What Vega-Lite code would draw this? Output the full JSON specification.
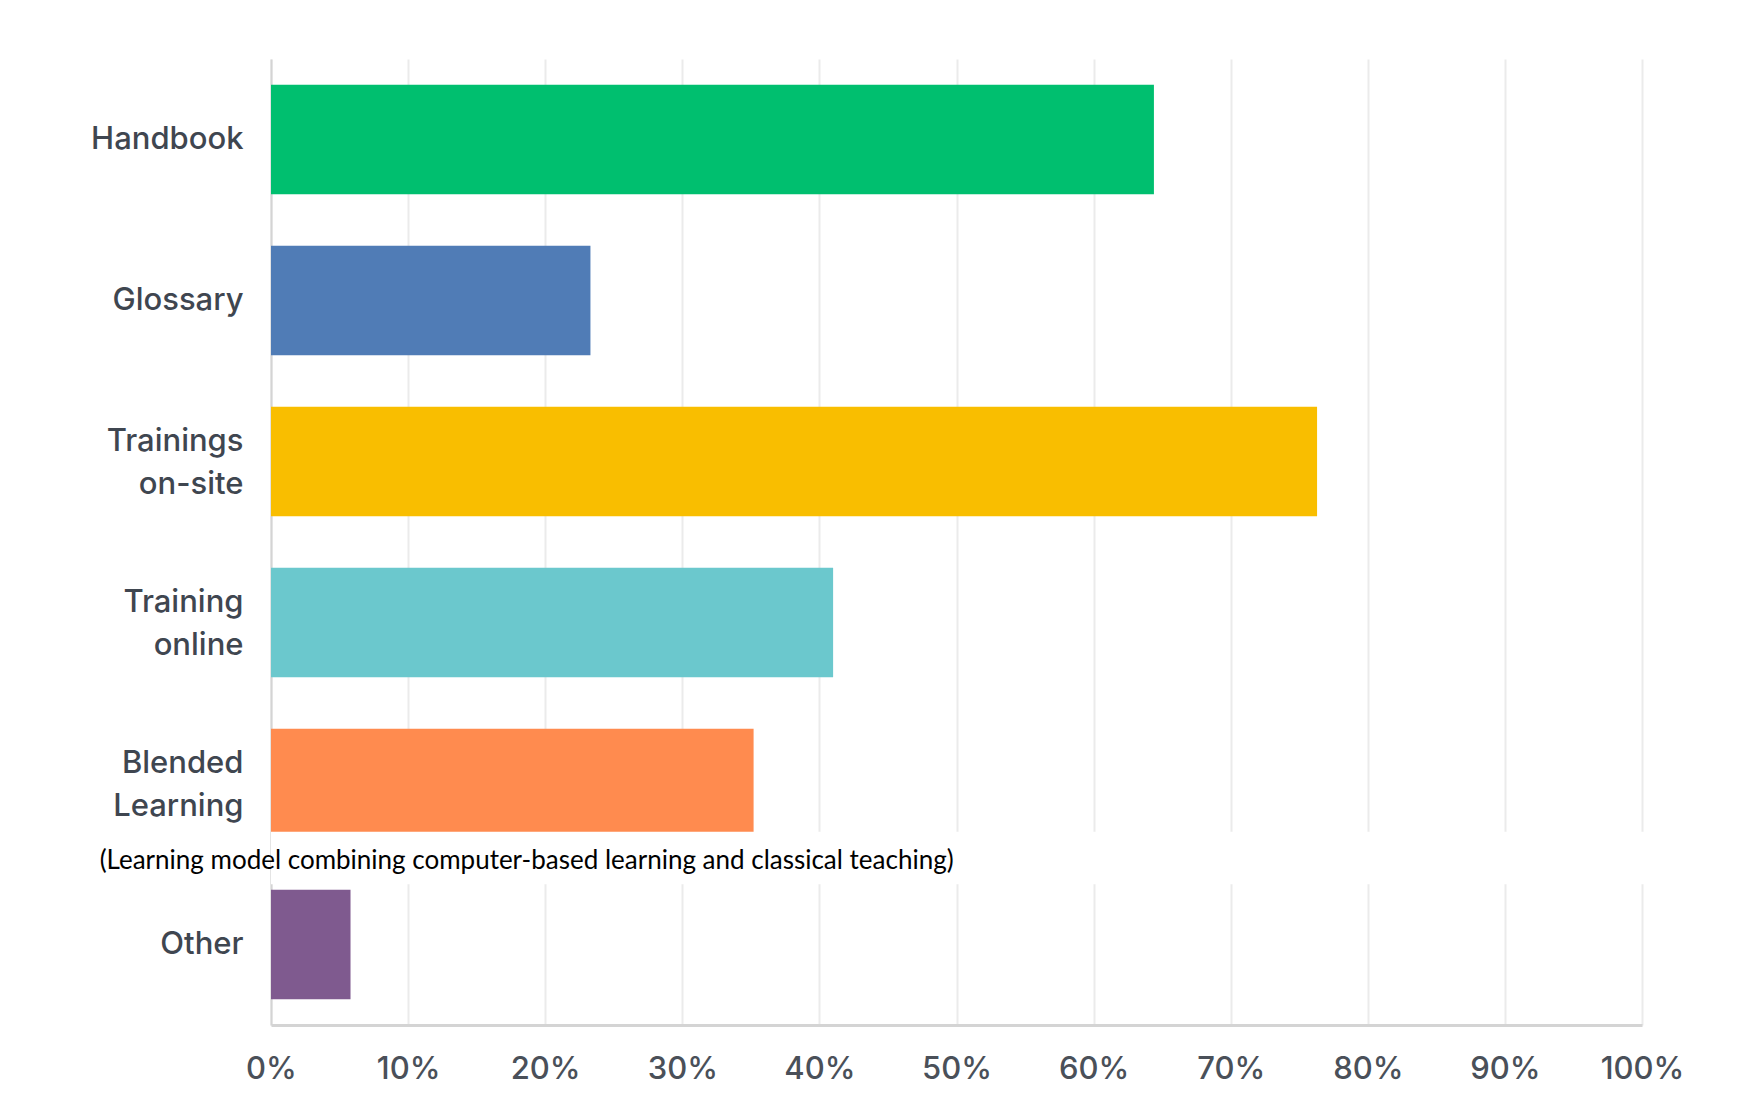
{
  "$schema": "https://vega.github.io/schema/vega-lite/v6.json",
  "width": 1371,
  "height": 966,
  "autosize": {"type": "none"},
  "padding": {"left": 271, "top": 59, "right": 113, "bottom": 92},
  "background": "white",
  "config": {"view": {"stroke": null}},
  "datasets": {
    "bars": [
      {"option": "Handbook", "share": 0.644},
      {"option": "Glossary", "share": 0.233},
      {"option": "Trainings on-site", "share": 0.763},
      {"option": "Training online", "share": 0.41},
      {"option": "Blended Learning", "share": 0.352},
      {"option": "Other", "share": 0.058}
    ],
    "mask": [{"from": "Blended Learning", "to": "Other", "x0": 0, "x1": 1.01}],
    "note": [{"option": "Blended Learning", "pos": -0.125, "text": "(Learning model combining computer-based learning and classical teaching)"}]
  },
  "layer": [
    {
      "data": {"name": "bars"},
      "mark": {"type": "bar"},
      "encoding": {
        "y": {
          "field": "option", "type": "nominal",
          "scale": {"domain": ["Handbook", "Glossary", "Trainings on-site", "Training online", "Blended Learning", "Other"], "paddingInner": 0.32, "paddingOuter": 0.16},
          "axis": {
            "title": null, "ticks": false, "grid": false,
            "domainColor": "#d4d4d4", "domainWidth": 2,
            "labelFont": "Inter", "labelFontSize": 31, "labelFontWeight": 500, "labelColor": "#3f4650",
            "labelPadding": 28, "labelLineHeight": 43, "labelLimit": 300,
            "labelOffset": {"condition": {"test": "indexof(datum.value, ' ') > 0", "value": -20}, "value": 0},
            "labelExpr": "datum.value == 'Trainings on-site' ? ['Trainings', 'on-site'] : datum.value == 'Training online' ? ['Training', 'online'] : datum.value == 'Blended Learning' ? ['Blended', 'Learning'] : datum.value"
          }
        },
        "x": {
          "field": "share", "type": "quantitative",
          "scale": {"domain": [0, 1], "nice": false},
          "axis": {
            "title": null, "format": ".0%", "values": [0, 0.1, 0.2, 0.3, 0.4, 0.5, 0.6, 0.7, 0.8, 0.9, 1],
            "ticks": false, "grid": true, "gridColor": "#ebebeb", "gridWidth": 2,
            "domainColor": "#d4d4d4", "domainWidth": 3,
            "labelFont": "Inter", "labelFontSize": 31, "labelFontWeight": 500, "labelColor": "#4a5059",
            "labelPadding": 29, "labelFlush": false
          }
        },
        "color": {
          "field": "option", "type": "nominal", "legend": null,
          "scale": {"domain": ["Handbook", "Glossary", "Trainings on-site", "Training online", "Blended Learning", "Other"],
                    "range": ["#00bf6f", "#507cb6", "#f9be00", "#6bc8cd", "#ff8b4f", "#7f5a8f"]}
        }
      }
    },
    {
      "data": {"name": "mask"},
      "mark": {"type": "rect", "color": "white"},
      "encoding": {
        "y": {"field": "from", "type": "nominal", "bandPosition": 0.94},
        "y2": {"field": "to", "bandPosition": -0.05},
        "x": {"field": "x0", "type": "quantitative"},
        "x2": {"field": "x1"}
      }
    },
    {
      "data": {"name": "note"},
      "mark": {"type": "text", "align": "left", "baseline": "middle", "font": "Lato", "fontSize": 26, "color": "#000000"},
      "encoding": {
        "y": {"field": "option", "type": "nominal", "bandPosition": 1.21},
        "x": {"field": "pos", "type": "quantitative"},
        "text": {"field": "text"}
      }
    }
  ]
}
